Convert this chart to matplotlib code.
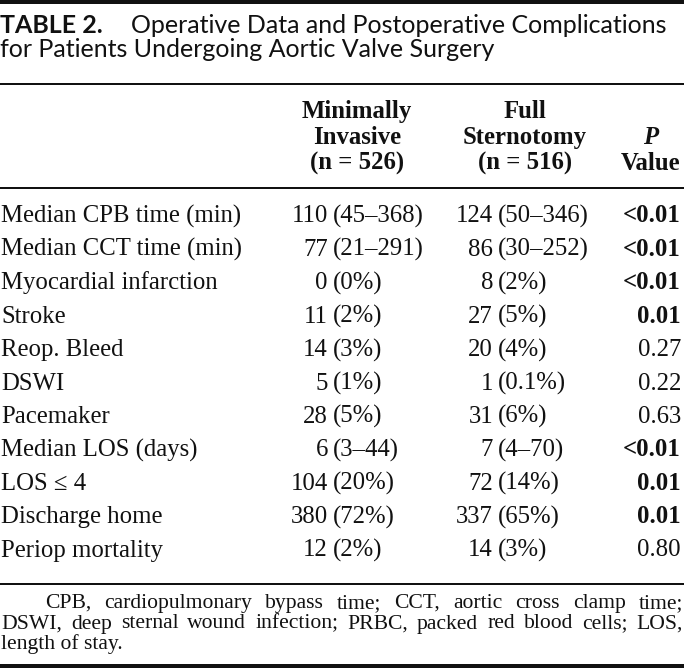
"""Table 2 of the aortic valve paper, redrawn as a matplotlib figure.

The axes run in pixel units (origin top left) so every row, rule and column
can be placed at the same offsets as the printed table.
"""

import matplotlib

matplotlib.use("Agg")

import matplotlib.pyplot as plt  # noqa: E402

WIDTH, HEIGHT = 684, 668
DPI = 100

SERIF = "Liberation Serif"
SANS = "Lato"
INK = "#111111"

TITLE_BOLD = "TABLE 2."
TITLE_LINE1 = "Operative Data and Postoperative Complications"
TITLE_LINE2 = "for Patients Undergoing Aortic Valve Surgery"

HEADER_MIS = ["Minimally", "Invasive", "(n = 526)"]
HEADER_FS = ["Full", "Sternotomy", "(n = 516)"]
HEADER_P = ["P", "Value"]

row_labels = [
    "Median CPB time (min)",
    "Median CCT time (min)",
    "Myocardial infarction",
    "Stroke",
    "Reop. Bleed",
    "DSWI",
    "Pacemaker",
    "Median LOS (days)",
    "LOS \u2264 4",
    "Discharge home",
    "Periop mortality",
]
mis_counts = ["110", "77", "0", "11", "14", "5", "28", "6", "104", "380", "12"]
mis_detail = ["(45\u2013368)", "(21\u2013291)", "(0%)", "(2%)", "(3%)", "(1%)",
              "(5%)", "(3\u201344)", "(20%)", "(72%)", "(2%)"]
fs_counts = ["124", "86", "8", "27", "20", "1", "31", "7", "72", "337", "14"]
fs_detail = ["(50\u2013346)", "(30\u2013252)", "(2%)", "(5%)", "(4%)", "(0.1%)",
             "(6%)", "(4\u201370)", "(14%)", "(65%)", "(3%)"]
p_values = ["<0.01", "<0.01", "<0.01", "0.01", "0.27", "0.22",
            "0.63", "<0.01", "0.01", "0.01", "0.80"]
p_significant = [True, True, True, True, False, False,
                 False, True, True, True, False]

FOOTNOTE = [
    "CPB, cardiopulmonary bypass time; CCT, aortic cross clamp time;",
    "DSWI, deep sternal wound infection; PRBC, packed red blood cells; LOS,",
    "length of stay.",
]

# Layout, in pixels.
BODY_SIZE = 17.8
FOOT_SIZE = 15.6
ROW_TOP = 222.5
ROW_STEP = 33.4
HEADER_BASELINES = [118, 144, 170]
MIS_PAREN_X = 333
FS_PAREN_X = 498
P_RIGHT_X = 681
FOOT_BASELINES = [608, 628.5, 649]
FOOT_INDENT = 45
FOOT_RIGHT = 683


def _width(ax, renderer, text, **kwargs):
    artist = ax.text(0, 0, text, **kwargs)
    width = artist.get_window_extent(renderer).width
    artist.remove()
    return width


def _justify(ax, renderer, line, left, right, y, **kwargs):
    """Spread the words of ``line`` so it fills ``left``..``right``."""

    words = line.split(" ")
    widths = [_width(ax, renderer, w, **kwargs) for w in words]
    gap = (right - left - sum(widths)) / (len(words) - 1)
    x = left
    for word, width in zip(words, widths):
        ax.text(x, y, word, ha="left", va="baseline", **kwargs)
        x += width + gap


fig = plt.figure(figsize=(WIDTH / DPI, HEIGHT / DPI), dpi=DPI)
fig.patch.set_facecolor("white")
ax = fig.add_axes([0, 0, 1, 1])
ax.set_xlim(0, WIDTH)
ax.set_ylim(HEIGHT, 0)
ax.axis("off")
renderer = fig.canvas.get_renderer()

# Title block: fit the sans title to the printed line length.
probe = _width(ax, renderer, TITLE_LINE1, family=SANS, fontsize=10)
title_size = 10 * (670 - 131) / probe
ax.text(0, 33, TITLE_BOLD, family=SANS, fontsize=title_size,
        fontweight="bold", color=INK, va="baseline")
ax.text(131, 33, TITLE_LINE1, family=SANS, fontsize=title_size,
        color=INK, va="baseline")
ax.text(0, 57, TITLE_LINE2, family=SANS, fontsize=title_size,
        color=INK, va="baseline")

# Rules.
for y, px in [(2, 4), (83.5, 2), (187.5, 2), (583.5, 2), (666, 4)]:
    ax.axhline(y, color=INK, linewidth=px * 72 / DPI)

head = dict(family=SERIF, fontsize=BODY_SIZE, fontweight="bold",
            color=INK, ha="center", va="baseline")
for y, mis, fs in zip(HEADER_BASELINES, HEADER_MIS, HEADER_FS):
    ax.text(357, y, mis, **head)
    ax.text(525, y, fs, **head)
ax.text(651, HEADER_BASELINES[1], HEADER_P[0], style="italic", **head)
ax.text(651, HEADER_BASELINES[2], HEADER_P[1], **head)

body = dict(family=SERIF, fontsize=BODY_SIZE, color=INK, va="baseline")
for i, label in enumerate(row_labels):
    y = ROW_TOP + i * ROW_STEP
    ax.text(1, y, label, ha="left", **body)
    ax.text(MIS_PAREN_X - 5, y, mis_counts[i], ha="right", **body)
    ax.text(MIS_PAREN_X, y, mis_detail[i], ha="left", **body)
    ax.text(FS_PAREN_X - 5, y, fs_counts[i], ha="right", **body)
    ax.text(FS_PAREN_X, y, fs_detail[i], ha="left", **body)
    weight = "bold" if p_significant[i] else "normal"
    ax.text(P_RIGHT_X, y, p_values[i], ha="right", fontweight=weight, **body)

foot = dict(family=SERIF, fontsize=FOOT_SIZE, color=INK)
_justify(ax, renderer, FOOTNOTE[0], FOOT_INDENT, FOOT_RIGHT, FOOT_BASELINES[0], **foot)
_justify(ax, renderer, FOOTNOTE[1], 1, FOOT_RIGHT, FOOT_BASELINES[1], **foot)
ax.text(1, FOOT_BASELINES[2], FOOTNOTE[2], ha="left", va="baseline", **foot)

fig.savefig("out.png", dpi=DPI, facecolor="white")
plt.close(fig)
